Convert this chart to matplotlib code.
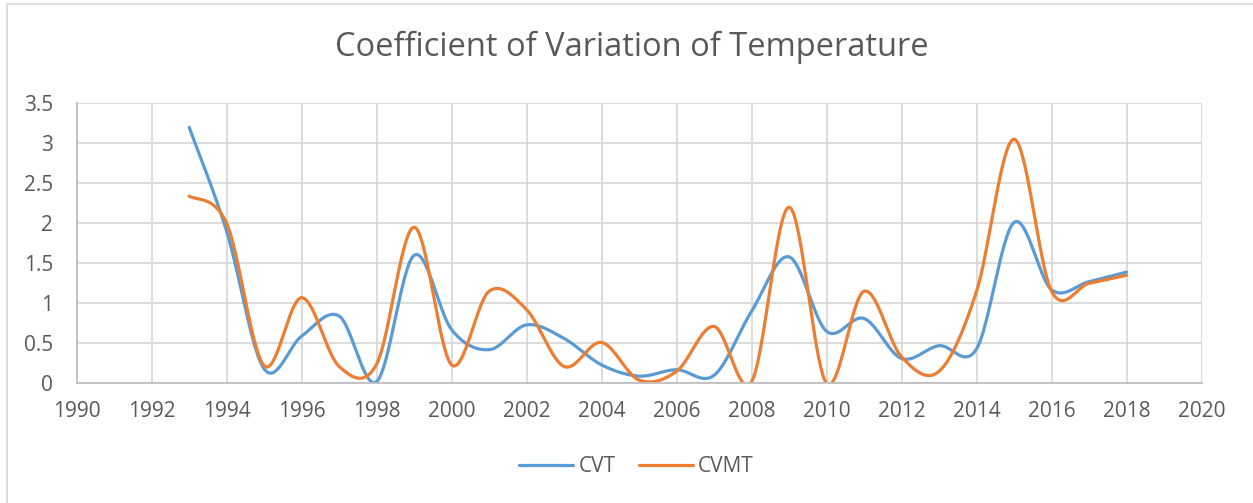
import matplotlib
matplotlib.use("Agg")
import matplotlib.pyplot as plt
import numpy as np

# values
years = list(range(1993, 2019))
cvt = [3.2, 1.9, 0.18, 0.59, 0.84, 0.02, 1.6, 0.67, 0.42, 0.73, 0.56, 0.23, 0.09,
       0.17, 0.1, 0.9, 1.58, 0.65, 0.81, 0.31, 0.47, 0.43, 2.01, 1.17, 1.27, 1.39]
cvmt = [2.34, 2.0, 0.22, 1.07, 0.21, 0.24, 1.95, 0.23, 1.15, 0.92, 0.21, 0.51, 0.04,
        0.15, 0.71, 0.02, 2.2, 0.0, 1.15, 0.33, 0.15, 1.15, 3.05, 1.15, 1.25, 1.35]
x_ticks = list(range(1990, 2021, 2))
y_ticks = [0, 0.5, 1, 1.5, 2, 2.5, 3, 3.5]

BLUE = "#5B9BD5"
ORANGE = "#ED7D31"
TXT = "#595959"
GRID = "#D9D9D9"
FONT = "Open Sans"


def smooth(xs, ys, n=40):
    """Bezier smoothing like Excel's smoothed line (Catmull-Rom, 1/6 tension)."""
    p = np.column_stack([xs, ys]).astype(float)
    p_ext = np.vstack([p[0], p, p[-1]])
    t = np.linspace(0, 1, n)[:, None]
    out = []
    for i in range(len(p) - 1):
        p0, p1, p2, p3 = p_ext[i], p_ext[i + 1], p_ext[i + 2], p_ext[i + 3]
        c1 = p1 + (p2 - p0) / 6
        c2 = p2 - (p3 - p1) / 6
        seg = ((1 - t) ** 3) * p1 + 3 * ((1 - t) ** 2) * t * c1 + 3 * (1 - t) * t ** 2 * c2 + t ** 3 * p2
        out.append(seg if i == 0 else seg[1:])
    out = np.vstack(out)
    return out[:, 0], out[:, 1]


fig = plt.figure(figsize=(12.53, 5.03), dpi=100)
ax = fig.add_axes([0.0612, 0.238, 0.8977, 0.5567])

# chart area border (only left and top visible in the crop)
fig.add_artist(plt.Rectangle((7 / 1253, -0.1), 1.2, 1 - 4 / 503 + 0.1, transform=fig.transFigure,
                             fill=False, edgecolor="#D9D9D9", linewidth=1.2))

sx, sy = smooth(years, cvt)
ax.plot(sx, sy, color=BLUE, linewidth=2.3, label="CVT", solid_capstyle="round")
sx, sy = smooth(years, cvmt)
ax.plot(sx, sy, color=ORANGE, linewidth=2.3, label="CVMT", solid_capstyle="round")

ax.set_xlim(1990, 2020)
ax.set_ylim(0, 3.5)
ax.set_xticks(x_ticks)
ax.set_yticks(y_ticks)
ax.set_xticklabels([str(v) for v in x_ticks])
ax.set_yticklabels(["0", "0.5", "1", "1.5", "2", "2.5", "3", "3.5"])
ax.grid(True, color=GRID, linewidth=1.3)
ax.set_axisbelow(True)
for s in ["top", "right"]:
    ax.spines[s].set_visible(False)
for s in ["left", "bottom"]:
    ax.spines[s].set_color("#BFBFBF")
    ax.spines[s].set_linewidth(1.3)
ax.tick_params(length=0, labelsize=15, labelcolor=TXT)
ax.tick_params(axis="x", pad=13)
ax.tick_params(axis="y", pad=17)
for lab in ax.get_xticklabels() + ax.get_yticklabels():
    lab.set_fontfamily(FONT)

fig.text(0.504, 0.905, "Coefficient of Variation of Temperature", ha="center", va="center",
         fontsize=23.5, color=TXT, family=FONT)

fig.legend(loc="center", bbox_to_anchor=(0.508, 0.072), ncol=2, frameon=False,
           prop={"family": FONT, "size": 15}, labelcolor=TXT, handlelength=2.6,
           handletextpad=0.25, columnspacing=1.1)

fig.savefig("out.png", dpi=100, facecolor="white")
